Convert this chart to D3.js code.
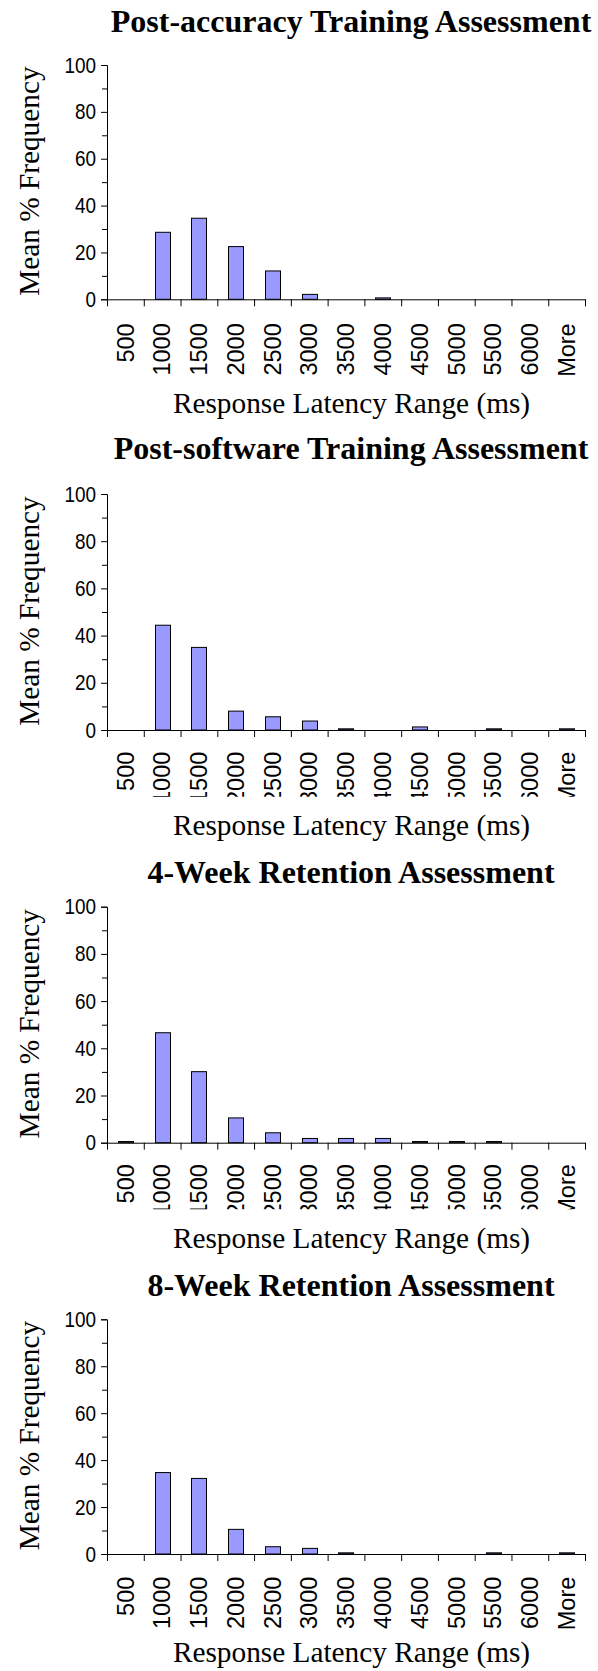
<!DOCTYPE html>
<html>
<head>
<meta charset="utf-8">
<script src="https://cdn.jsdelivr.net/npm/d3@7"></script>
<style>
  body { margin: 0; background: #fff; }
  svg { display: block; }
  .title { font-family: "Liberation Serif", "Times New Roman", serif; font-weight: bold; font-size: 32px; }
  .axis-title { font-family: "Liberation Serif", "Times New Roman", serif; font-size: 29.3px; }
  .ylabels text { font-family: "Liberation Sans", Arial, sans-serif; font-size: 22px; fill: #000; }
  .xlabels text { font-family: "Liberation Sans", Arial, sans-serif; font-size: 23.5px; fill: #000; }
</style>
</head>
<body>
<svg id="chart"></svg>
<script>
// Histogram data - mean % frequency per response latency bin

// Bin labels (upper bound of each range, ms)
var categories = ["500", "1000", "1500", "2000", "2500", "3000", "3500", "4000", "4500", "5000", "5500", "6000", "More"];

// Series values
var postAccuracy = [0, 28.6, 34.6, 22.5, 12.1, 2.1, 0, 0.6, 0, 0, 0, 0, 0];
var postSoftware = [0, 44.4, 35.0, 8.0, 5.6, 3.8, 0.5, 0, 1.3, 0, 0.5, 0, 0.5];
var week4 = [0.5, 46.6, 30.1, 10.5, 4.2, 1.8, 1.8, 1.8, 0.5, 0.5, 0.5, 0, 0];
var week8 = [0, 34.7, 32.2, 10.5, 3.1, 2.4, 0.5, 0, 0, 0, 0.5, 0, 0.5];

var titles = ["Post-accuracy Training Assessment", "Post-software Training Assessment",
              "4-Week Retention Assessment", "8-Week Retention Assessment"];
var series = [postAccuracy, postSoftware, week4, week8];

// Tick labels
var yTicks = [0, 20, 40, 60, 80, 100];
var yMinorTicks = [10, 30, 50, 70, 90];

// Chart setup
var svgWidth = 598;
var svgHeight = 1671;

var svg = d3.select("#chart")
    .attr("width", svgWidth)
    .attr("height", svgHeight);

// Horizontal extent shared by all panels
var plotLeft = 107;
var plotRight = 585;

// y tick labels are a narrow face in the original: squeeze horizontally
var narrow = 0.86;

// Vertical layout of each panel (title baseline, plot top/bottom, label offset and clip)
var panels = [
    { titleY: 31.7, top: 65, bottom: 299.3, labelGap: 24, clip: null, xTitleY: 412.7 },
    { titleY: 459.3, top: 494, bottom: 730, labelGap: 21.7, clip: 796.7, xTitleY: 835 },
    { titleY: 883.3, top: 906.7, bottom: 1142.7, labelGap: 21.5, clip: 1209.3, xTitleY: 1248.3 },
    { titleY: 1296, top: 1319.3, bottom: 1554, labelGap: 22.7, clip: null, xTitleY: 1661.7 }
];

var xScale = d3.scaleBand()
    .domain(categories)
    .range([plotLeft, plotRight])
    .paddingInner(0.59)
    .paddingOuter(0.295);

// Scale for bin boundaries (tick marks sit between the bars)
var edgeScale = d3.scaleLinear()
    .domain([0, categories.length])
    .range([plotLeft, plotRight]);

panels.forEach(function(p, i) {
    var values = series[i];

    var yScale = d3.scaleLinear()
        .domain([0, 100])
        .range([p.bottom, p.top]);

    var g = svg.append("g");

    // Title
    g.append("text")
        .attr("class", "title")
        .attr("x", 351)
        .attr("y", p.titleY)
        .attr("text-anchor", "middle")
        .text(titles[i]);

    // Bars
    g.append("g")
        .selectAll("rect")
        .data(values.map(function(v, k) { return { cat: categories[k], v: v }; }).filter(function(d) { return d.v > 0; }))
        .enter()
        .append("rect")
        .attr("x", function(d) { return Math.round(xScale(d.cat)) + 0.5; })
        .attr("y", function(d) { return yScale(d.v); })
        .attr("width", Math.round(xScale.bandwidth()))
        .attr("height", function(d) { return yScale(0) - yScale(d.v); })
        .attr("fill", "#9999ff")
        .attr("stroke", "#000")
        .attr("stroke-width", 1);

    // Y axis, major ticks with labels
    var yAxis = g.append("g")
        .attr("class", "ylabels")
        .attr("transform", "translate(" + plotLeft + ",0)")
        .call(d3.axisLeft(yScale).tickValues(yTicks).tickSize(6).tickPadding(5));
    yAxis.select(".domain").attr("stroke", "#000");
    yAxis.selectAll("text")
        .attr("font-family", null)
        .attr("font-size", null)
        .attr("x", -11 / narrow)
        .attr("transform", "scale(" + narrow + ",1)");

    // Y axis minor ticks
    g.append("g")
        .attr("transform", "translate(" + plotLeft + ",0)")
        .call(d3.axisLeft(yScale).tickValues(yMinorTicks).tickSize(5).tickFormat(""))
        .select(".domain").remove();

    // X axis line with boundary ticks
    var edges = d3.range(categories.length + 1);
    g.append("g")
        .attr("transform", "translate(0," + p.bottom + ")")
        .call(d3.axisBottom(edgeScale).tickValues(edges).tickSize(7).tickSizeOuter(0).tickFormat(""));

    // X tick labels, rotated
    var labelGroup = g.append("g")
        .attr("class", "xlabels")
        .attr("transform", "translate(0," + p.bottom + ")");

    if (p.clip) {
        var clipId = "clip" + i;
        svg.append("clipPath")
            .attr("id", clipId)
            .append("rect")
            .attr("x", 0)
            .attr("y", 0)
            .attr("width", svgWidth)
            .attr("height", p.clip - p.bottom);
        labelGroup.attr("clip-path", "url(#" + clipId + ")");
    }

    labelGroup.call(d3.axisBottom(xScale).tickSize(0).tickPadding(0));
    labelGroup.select(".domain").remove();
    labelGroup.selectAll("text")
        .attr("font-family", null)
        .attr("font-size", null)
        .attr("transform", "rotate(-90)")
        .attr("text-anchor", "end")
        .attr("x", -p.labelGap)
        .attr("y", 0)
        .attr("dy", "0.35em");

    // Axis titles
    g.append("text")
        .attr("class", "axis-title")
        .attr("x", 351.5)
        .attr("y", p.xTitleY)
        .attr("text-anchor", "middle")
        .text("Response Latency Range (ms)");

    g.append("text")
        .attr("class", "axis-title")
        .attr("transform", "translate(38.5," + ((p.top + p.bottom) / 2 - 1) + ") rotate(-90)")
        .attr("text-anchor", "middle")
        .text("Mean % Frequency");
});
</script>
</body>
</html>
